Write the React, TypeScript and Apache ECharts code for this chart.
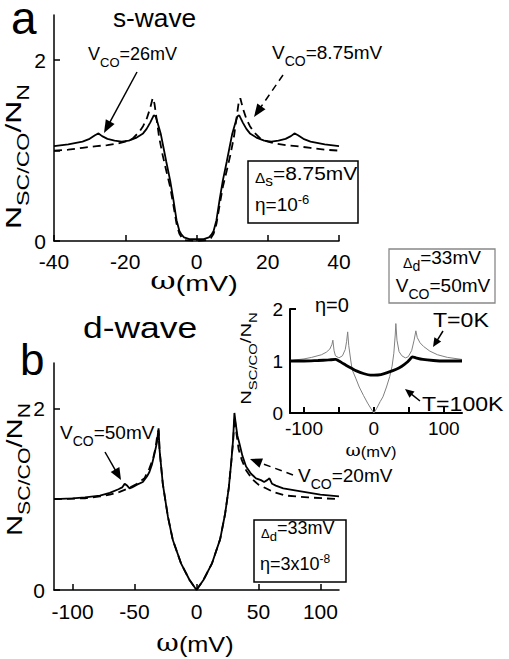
import React, { useEffect, useRef } from 'react';
import * as echarts from 'echarts';

const FF = '"Liberation Sans", Arial, Helvetica, sans-serif';
const SERIF = '"DejaVu Serif", "Liberation Serif", serif';

// ---------- Panel a: s-wave ----------
const sOmegaSolid = [-40, -36, -32, -30, -28.5, -27.5, -26.5, -25, -23, -21, -19, -17, -15, -14, -13, -12, -11.5, -11, -10, -9.3, -8.5, -7.4, -6.5, -5.6, -4.8, -4.2, -3.5, -2, 0, 2, 3.5, 4.2, 4.8, 5.6, 6.5, 7.4, 8.5, 9.3, 10, 11, 11.5, 12, 13, 14, 15, 17, 19, 21, 23, 25, 26.5, 27.5, 28.5, 30, 32, 36, 40];
const sSolid = [1.05, 1.07, 1.10, 1.13, 1.17, 1.19, 1.16, 1.13, 1.11, 1.10, 1.11, 1.14, 1.19, 1.24, 1.31, 1.39, 1.38, 1.32, 1.18, 1.04, 0.88, 0.67, 0.46, 0.23, 0.11, 0.07, 0.04, 0.02, 0.02, 0.02, 0.04, 0.07, 0.11, 0.23, 0.46, 0.67, 0.88, 1.04, 1.18, 1.32, 1.38, 1.39, 1.31, 1.24, 1.19, 1.14, 1.11, 1.10, 1.11, 1.13, 1.16, 1.19, 1.17, 1.13, 1.10, 1.07, 1.05];
const sOmegaDashed = [-40, -36, -32, -28, -25, -22, -20, -18, -16, -15, -14, -13, -12.3, -11.8, -11.2, -10.5, -9.5, -8.5, -7.4, -6.5, -5.6, -4.8, -4, -3, 0, 3, 4, 4.8, 5.6, 6.5, 7.4, 8.5, 9.5, 10.5, 11.2, 11.8, 12.3, 13, 14, 15, 16, 18, 20, 22, 25, 28, 32, 36, 40];
const sDashed = [1.00, 1.01, 1.03, 1.05, 1.06, 1.08, 1.10, 1.13, 1.21, 1.27, 1.35, 1.47, 1.58, 1.52, 1.35, 1.15, 0.95, 0.78, 0.6, 0.4, 0.19, 0.08, 0.03, 0.01, 0.0, 0.01, 0.03, 0.08, 0.19, 0.4, 0.6, 0.78, 0.95, 1.15, 1.35, 1.52, 1.58, 1.47, 1.35, 1.27, 1.21, 1.13, 1.10, 1.08, 1.06, 1.05, 1.03, 1.01, 1.00];

// ---------- Panel b: d-wave ----------
const dOmegaSolid = [-115, -100, -90, -78, -70, -63, -60, -58, -56, -54, -52, -48, -43.3, -40, -38, -36, -33.9, -32, -30.6, -29.8, -27.2, -23.1, -19.1, -12.4, -5.6, 0, 5.6, 12.4, 19.1, 23.1, 26, 28, 29.5, 30.6, 31.5, 33, 34.7, 37, 40, 44, 48, 52, 54.6, 57, 58.9, 61, 64, 70, 83, 100, 115];
const dSolid = [1.0, 1.01, 1.02, 1.04, 1.07, 1.11, 1.13, 1.17, 1.15, 1.12, 1.13, 1.16, 1.19, 1.25, 1.3, 1.38, 1.5, 1.62, 1.78, 1.54, 1.17, 0.81, 0.55, 0.29, 0.11, 0.0, 0.11, 0.29, 0.56, 0.84, 1.12, 1.4, 1.65, 1.95, 1.85, 1.7, 1.61, 1.48, 1.36, 1.28, 1.23, 1.21, 1.19, 1.21, 1.23, 1.17, 1.15, 1.12, 1.09, 1.05, 1.03];
const dOmegaDashed = [-115, -90, -78, -70, -62, -55, -48, -42, -38, -35, -33, -31.5, -30.6, -29.8, -27.2, -23.1, -19.1, -12.4, -5.6, 0, 5.6, 12.4, 19.1, 23.1, 26, 28, 29.5, 30.8, 32, 34, 36.6, 40, 45, 50, 56, 62, 72, 90, 115];
const dDashed = [1.0, 1.01, 1.03, 1.05, 1.08, 1.12, 1.17, 1.23, 1.34, 1.45, 1.57, 1.72, 1.76, 1.54, 1.17, 0.81, 0.55, 0.29, 0.11, 0.0, 0.11, 0.29, 0.56, 0.84, 1.12, 1.4, 1.63, 1.91, 1.75, 1.55, 1.43, 1.32, 1.22, 1.16, 1.12, 1.08, 1.04, 1.02, 1.0];

// ---------- Inset: eta = 0 ----------
const insetOmega0 = [-120, -113, -100, -89, -75, -68, -63, -60, -58.7, -57, -55, -50, -45, -41, -39, -37.5, -36, -33, -31, -26, -21, -15, -9, -4, 0, 4, 9, 12.9, 18, 22.6, 26, 28.5, 30.5, 31.4, 33, 36, 40, 45, 49, 54, 57.5, 60, 62, 66, 71, 80, 91, 105, 126];
const insetT0 = [1.0, 1.02, 1.04, 1.07, 1.12, 1.17, 1.23, 1.32, 1.40, 1.2, 1.1, 1.06, 1.1, 1.22, 1.38, 1.56, 1.3, 1.0, 0.83, 0.67, 0.5, 0.34, 0.19, 0.08, 0.0, 0.09, 0.22, 0.31, 0.5, 0.7, 0.9, 1.15, 1.5, 1.72, 1.4, 1.18, 1.1, 1.06, 1.08, 1.2, 1.4, 1.58, 1.45, 1.35, 1.28, 1.19, 1.12, 1.07, 1.03];
const insetOmega100 = [-120, -100, -80, -65, -55, -50, -45, -40, -32, -25, -15, -5, 0, 10, 20, 32, 40, 47, 52, 55, 60, 70, 85, 100, 126];
const insetT100 = [1.0, 1.0, 1.01, 1.02, 1.03, 1.0, 0.96, 0.92, 0.86, 0.81, 0.76, 0.73, 0.73, 0.74, 0.78, 0.84, 0.9, 0.97, 1.04, 1.08, 1.06, 1.03, 1.01, 1.0, 1.0];

// tick / label values
const aXTicks = [-40, -20, 0, 20, 40];
const aYTicks = [0, 1, 2];
const aYLabels = [0, 2];
const bXTicks = [-100, -50, 0, 50, 100];
const bYTicks = [0, 1, 2];
const bYLabels = [0, 2];
const iXTicks = [-100, -50, 0, 50, 100];
const iXLabels = [-100, 0, 100];
const iYTicks = [0, 1, 2];
const iYLabels = [0, 1, 2];

// axis ranges
const aRange = [-40, 40];
const bRange = [-115, 115];
const iRange = [-120, 126];

const zip = (xs: number[], ys: number[]) => xs.map((x, i) => [x, ys[i]]);

function subRich(F: number, S: number) {
  const p = Math.round(F * 0.32);
  return {
    m: { fontSize: F, fontFamily: FF, fill: '#000', lineHeight: F, padding: [0, 0, p, 0], verticalAlign: 'bottom' },
    d: { fontSize: Math.round(F * 0.72), fontFamily: FF, fill: '#000', lineHeight: F, padding: [0, 0, p - 3, 0], verticalAlign: 'bottom' },
    s: { fontSize: S, fontFamily: FF, fill: '#000', lineHeight: F, verticalAlign: 'bottom' },
  };
}
function supRich(F: number, S: number) {
  const q = Math.round(F * 0.42);
  return {
    n: { fontSize: F, fontFamily: FF, fill: '#000', lineHeight: F, verticalAlign: 'bottom' },
    p: { fontSize: S, fontFamily: FF, fill: '#000', lineHeight: F, padding: [0, 0, q, 0], verticalAlign: 'bottom' },
  };
}

function subText(x: number, yc: number, text: string, F: number, S: number, opt: any = {}) {
  const p = Math.round(F * 0.32);
  return {
    type: 'text', x, y: yc + p / 2, silent: true,
    rotation: opt.rotation || 0, scaleX: opt.scaleX || 1,
    style: { text, rich: subRich(F, S), align: opt.align || 'left', verticalAlign: 'middle' },
  };
}
function supText(x: number, yc: number, text: string, F: number, S: number, opt: any = {}) {
  const q = Math.round(F * 0.42);
  return {
    type: 'text', x, y: yc - q / 2, silent: true, scaleX: opt.scaleX || 1,
    style: { text, rich: supRich(F, S), align: opt.align || 'left', verticalAlign: 'middle' },
  };
}
function plainText(x: number, y: number, text: string, F: number, opt: any = {}) {
  return {
    type: 'text', x, y, silent: true, scaleX: opt.scaleX || 1,
    style: { text, fontSize: F, fontFamily: opt.family || FF, fill: '#000', align: opt.align || 'left', verticalAlign: 'middle', lineHeight: opt.lineHeight || F },
  };
}
function omegaTitle(x: number, y: number, F: number, scaleX: number) {
  return {
    type: 'text', x, y, silent: true, scaleX,
    style: {
      text: '{w|ω}{m|(mV)}', align: 'center', verticalAlign: 'middle',
      rich: {
        w: { fontSize: F + 2, fontFamily: SERIF, fill: '#000', lineHeight: F + 2, verticalAlign: 'bottom', padding: [0, 0, 1, 0] },
        m: { fontSize: F, fontFamily: FF, fill: '#000', lineHeight: F + 2, verticalAlign: 'bottom' },
      },
    },
  };
}
function arrow(x1: number, y1: number, x2: number, y2: number, dashed: boolean, head = 12, hw = 4.5, lw = 1.5) {
  const dx = x2 - x1, dy = y2 - y1;
  const L = Math.sqrt(dx * dx + dy * dy);
  const ux = dx / L, uy = dy / L;
  const bx = x2 - ux * head, by = y2 - uy * head;
  const nx = -uy, ny = ux;
  return [
    { type: 'line', silent: true, shape: { x1, y1, x2: bx + ux * 2, y2: by + uy * 2 }, style: { stroke: '#000', lineWidth: lw, lineDash: dashed ? [7, 5] : null } },
    { type: 'polygon', silent: true, shape: { points: [[x2, y2], [bx + nx * hw, by + ny * hw], [bx - nx * hw, by - ny * hw]] }, style: { fill: '#000' } },
  ];
}

function xAx(gridIndex: number, range: number[], ticks: number[], labels: number[], fs: number, margin: number, lw: number) {
  return {
    type: 'value', gridIndex, min: range[0], max: range[1], position: 'bottom',
    axisLine: { show: true, onZero: false, lineStyle: { color: '#000', width: lw } },
    axisTick: { show: true, inside: true, length: 6, customValues: ticks, lineStyle: { color: '#000', width: lw } },
    axisLabel: { customValues: labels, fontSize: fs, fontFamily: FF, color: '#000', margin },
    splitLine: { show: false },
  };
}
function yAx(gridIndex: number, min: number, max: number, ticks: number[], lw: number) {
  return {
    type: 'value', gridIndex, min, max, position: 'left',
    axisLine: { show: true, onZero: false, lineStyle: { color: '#000', width: lw } },
    axisTick: { show: true, inside: true, length: 6, customValues: ticks, lineStyle: { color: '#000', width: lw } },
    axisLabel: { show: false },
    splitLine: { show: false },
  };
}

function line(xi: number, data: number[][], color: string, width: number, dashed: boolean, smooth: number | boolean = false) {
  return {
    type: 'line', xAxisIndex: xi, yAxisIndex: xi, data, showSymbol: false, symbol: 'none', smooth,
    lineStyle: { color, width, type: dashed ? [8, 5] : 'solid' }, silent: true,
  };
}

const yLabelText = '{m|N}{s|SC/CO}{m|/N}{s|N}';

const baseGraphic: any[] = [
  // panel letters and titles
  plainText(11, 18, 'a', 46, { lineHeight: 28 }),
  plainText(113, 18, 's-wave', 25, { scaleX: 1.05 }),
  plainText(20, 359, 'b', 44, { lineHeight: 36 }),
  plainText(83, 327, 'd-wave', 30, { scaleX: 1.18 }),
  // axis titles
  omegaTitle(194, 282, 22, 1.3),
  omegaTitle(195, 644, 22, 1.15),
  omegaTitle(371, 451, 15, 1.1),
  // y axis titles (rotated)
  subText(20, 153, yLabelText, 22, 16, { rotation: Math.PI / 2, scaleX: 1.45, align: 'center' }),
  subText(21, 466, yLabelText, 22, 16, { rotation: Math.PI / 2, scaleX: 1.33, align: 'center' }),
  subText(251, 356, yLabelText, 15, 11, { rotation: Math.PI / 2, scaleX: 1.35, align: 'center' }),
  // panel a annotations
  subText(88, 57, '{m|V}{s|CO}{m|=26mV}', 18, 13),
  ...arrow(137, 72, 104, 133, false, 13, 5),
  subText(272, 55, '{m|V}{s|CO}{m|=8.75mV}', 19, 14),
  ...arrow(283, 75, 254, 117, true, 13, 5),
  { type: 'rect', silent: true, shape: { x: 248, y: 161, width: 110, height: 62 }, style: { fill: 'none', stroke: '#000', lineWidth: 1.5 } },
  subText(255, 176, '{d|Δ}{s|s}{m|=8.75mV}', 19, 14, { scaleX: 1.1 }),
  supText(255, 208, '{n|η=10}{p|-6}', 19, 13),
  // panel b annotations
  subText(60, 435, '{m|V}{s|CO}{m|=50mV}', 19, 14),
  ...arrow(105, 452, 121, 480, false, 12, 5),
  subText(298, 478, '{m|V}{s|CO}{m|=20mV}', 19, 14),
  ...arrow(293, 475, 250, 459, true, 12, 5),
  { type: 'rect', silent: true, shape: { x: 254, y: 520, width: 92, height: 62 }, style: { fill: 'none', stroke: '#000', lineWidth: 1.5 } },
  subText(261, 531, '{d|Δ}{s|d}{m|=33mV}', 18, 13),
  supText(260, 568, '{n|η=3x10}{p|-8}', 18, 12),
  // inset annotations
  { type: 'rect', silent: true, shape: { x: 389, y: 249, width: 106, height: 54 }, style: { fill: 'none', stroke: '#888', lineWidth: 1.3 } },
  subText(442, 260, '{d|Δ}{s|d}{m|=33mV}', 19, 14, { align: 'center' }),
  subText(443, 288, '{m|V}{s|CO}{m|=50mV}', 19, 14, { align: 'center' }),
  plainText(315, 305, 'η=0', 20),
  plainText(433, 320, 'T=0K', 21, { scaleX: 1.1 }),
  ...arrow(443, 331, 433, 347, false, 9, 4, 1.5),
  plainText(422, 404, 'T=100K', 21, { scaleX: 1.1 }),
  ...arrow(420, 401, 405, 389, false, 9, 4, 1.5),
];

const option = {
  animation: false,
  backgroundColor: '#ffffff',
  grid: [
    { left: 54, top: 15, width: 285, height: 226 },
    { left: 54, top: 363, width: 285, height: 227 },
    { left: 290, top: 309, width: 172, height: 104 },
  ],
  xAxis: [
    xAx(0, aRange, aXTicks, aXTicks, 21, 10, 1.5),
    xAx(1, bRange, bXTicks, bXTicks, 21, 11, 1.5),
    xAx(2, iRange, iXTicks, iXLabels, 19, 6, 2),
  ],
  yAxis: [
    yAx(0, 0, 2.5, aYTicks, 1.5),
    yAx(1, 0, 2.5, bYTicks, 1.5),
    yAx(2, 0, 2, iYTicks, 2),
  ],
  series: [
    line(0, zip(sOmegaDashed, sDashed), '#000', 1.8, true),
    line(0, zip(sOmegaSolid, sSolid), '#000', 1.8, false),
    line(1, zip(dOmegaDashed, dDashed), '#000', 1.8, true),
    line(1, zip(dOmegaSolid, dSolid), '#000', 1.8, false),
    line(2, zip(insetOmega0, insetT0), '#808080', 1, false),
    line(2, zip(insetOmega100, insetT100), '#000', 2.8, false, 0.3),
  ],
  graphic: baseGraphic,
};

// y tick labels: positioned through each panel's own axis scale
const yLabelSpecs = [
  { idx: 0, xMin: aRange[0], labels: aYLabels, fs: 21, margin: 8 },
  { idx: 1, xMin: bRange[0], labels: bYLabels, fs: 21, margin: 9 },
  { idx: 2, xMin: iRange[0], labels: iYLabels, fs: 19, margin: 7 },
];

export default function App() {
  const ref = useRef<HTMLDivElement>(null);
  useEffect(() => {
    document.body.style.margin = '0';
    const chart = echarts.init(ref.current as HTMLDivElement, null, { renderer: 'svg', width: 509, height: 659 });
    chart.setOption(option as any);
    const extra: any[] = [];
    yLabelSpecs.forEach((s) => {
      s.labels.forEach((v) => {
        const pt = chart.convertToPixel({ xAxisIndex: s.idx, yAxisIndex: s.idx } as any, [s.xMin, v]) as number[];
        if (pt) {
          extra.push({
            type: 'text', silent: true, x: pt[0] - s.margin, y: pt[1],
            style: { text: String(v), fontSize: s.fs, fontFamily: FF, fill: '#000', align: 'right', verticalAlign: 'middle' },
          });
        }
      });
    });
    chart.setOption({ graphic: [...baseGraphic, ...extra] } as any);
    return () => chart.dispose();
  }, []);
  return <div ref={ref} style={{ width: 509, height: 659, position: 'absolute', left: 0, top: 0, background: '#fff' }} />;
}
